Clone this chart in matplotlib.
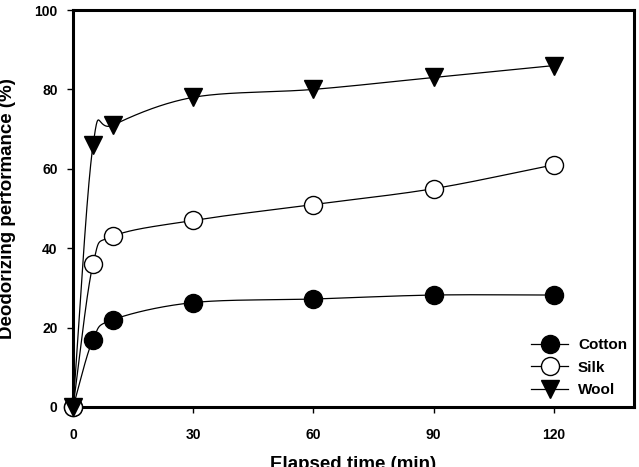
import numpy as np
import matplotlib
matplotlib.use("Agg")
import matplotlib.pyplot as plt
from matplotlib.lines import Line2D

time_min = [0, 5, 10, 30, 60, 90, 120]
cotton = [0, 17, 22, 26.3, 27.2, 28.2, 28.2]
silk = [0, 36, 43, 47, 51, 55, 61]
wool = [0, 66, 71, 78, 80, 83, 86]
x_ticks = [0, 30, 60, 90, 120]
y_ticks = [0, 20, 40, 60, 80, 100]

plt.rcParams['font.family'] = ['Liberation Sans', 'DejaVu Sans']


def catmull_rom(x, y, sx=561 / 140, sy=397 / 100, alpha=0.0, n=60):
    """Catmull-Rom curve through the points (smooth line rendering)."""
    P = np.column_stack([np.asarray(x, float) * sx, np.asarray(y, float) * sy])
    P = np.vstack([2 * P[0] - P[1], P, 2 * P[-1] - P[-2]])
    out = []
    for i in range(1, len(P) - 2):
        p0, p1, p2, p3 = P[i - 1], P[i], P[i + 1], P[i + 2]
        t0 = 0.0
        t1 = t0 + np.linalg.norm(p1 - p0) ** alpha
        t2 = t1 + np.linalg.norm(p2 - p1) ** alpha
        t3 = t2 + np.linalg.norm(p3 - p2) ** alpha
        t = np.linspace(t1, t2, n)[:, None]
        A1 = (t1 - t) / (t1 - t0) * p0 + (t - t0) / (t1 - t0) * p1
        A2 = (t2 - t) / (t2 - t1) * p1 + (t - t1) / (t2 - t1) * p2
        A3 = (t3 - t) / (t3 - t2) * p2 + (t - t2) / (t3 - t2) * p3
        B1 = (t2 - t) / (t2 - t0) * A1 + (t - t0) / (t2 - t0) * A2
        B2 = (t3 - t) / (t3 - t1) * A2 + (t - t1) / (t3 - t1) * A3
        C = (t2 - t) / (t2 - t1) * B1 + (t - t1) / (t2 - t1) * B2
        out.append(C)
    C = np.vstack(out)
    return C[:, 0] / sx, C[:, 1] / sy


fig = plt.figure(figsize=(6.39, 4.67), dpi=100)
ax = fig.add_axes([73 / 639, 1 - 407 / 467, (634 - 73) / 639, (407 - 10) / 467])

series = [
    (cotton, 'o', 'black', 'Cotton'),
    (silk, 'o', 'white', 'Silk'),
    (wool, 'v', 'black', 'Wool'),
]
for vals, mk, fc, lab in series:
    xs, ys = catmull_rom(time_min, vals)
    ax.plot(xs, ys, color='black', lw=0.9, zorder=2)
    ax.plot(time_min, vals, linestyle='none', marker=mk, markersize=13,
            markerfacecolor=fc, markeredgecolor='black', markeredgewidth=1.0,
            clip_on=False, zorder=3)

ax.set_xlim(0, 140)
ax.set_ylim(0, 100)
ax.set_xticks(x_ticks)
ax.set_yticks(y_ticks)
ax.set_xticklabels([str(v) for v in x_ticks], fontweight='bold', fontsize=10)
ax.set_yticklabels([str(v) for v in y_ticks], fontweight='bold', fontsize=10)
ax.tick_params(direction='out', length=4, width=1, top=False, right=False)
ax.tick_params(axis='x', pad=11)
ax.tick_params(axis='y', pad=7)
for s in ax.spines.values():
    s.set_linewidth(2.2)

ax.set_xlabel('Elapsed time (min)', fontsize=13.5, fontweight='bold')
ax.set_ylabel('Deodorizing performance (%)', fontsize=13.5, fontweight='bold')
ax.xaxis.set_label_coords(0.5, -(456 - 407) / 397)
ax.yaxis.set_label_coords(-(73 - 16) / 561, 0.5)

handles = [
    Line2D([], [], color='black', lw=0.9, marker='o', markersize=13, markerfacecolor='black', markeredgecolor='black'),
    Line2D([], [], color='black', lw=0.9, marker='o', markersize=13, markerfacecolor='white', markeredgecolor='black'),
    Line2D([], [], color='black', lw=0.9, marker='v', markersize=13, markerfacecolor='black', markeredgecolor='black'),
]
ax.legend(handles, ['Cotton', 'Silk', 'Wool'], loc='lower right', frameon=False,
          prop={'weight': 'bold', 'size': 11}, handlelength=2.4, labelspacing=0.55,
          handletextpad=0.65, borderaxespad=0.05, bbox_to_anchor=(1.0, 0.008))

fig.savefig('out.png', dpi=100)
